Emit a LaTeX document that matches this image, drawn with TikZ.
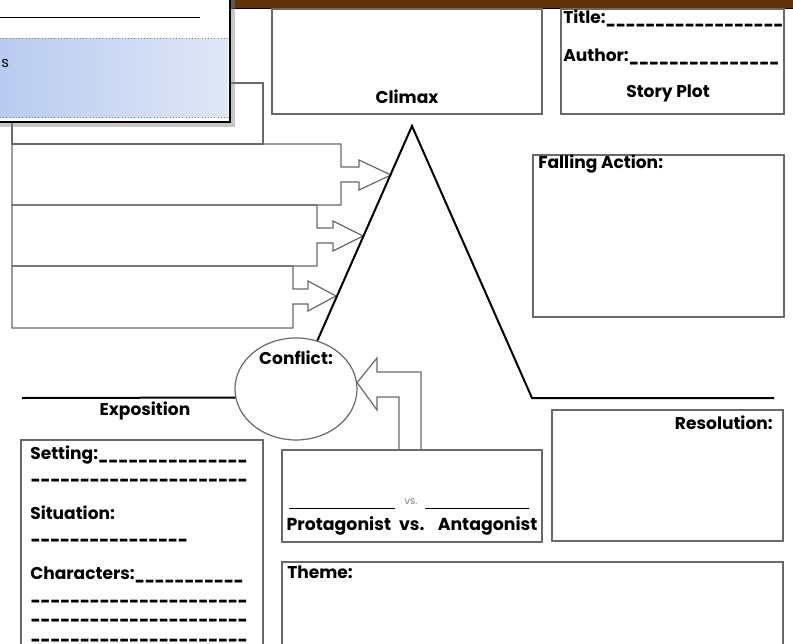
\documentclass[tikz,border=0pt]{standalone}
\usepackage{fontspec}
\setmainfont{Poppins}
\usetikzlibrary{positioning,shapes.geometric,shadows}

\definecolor{boxgray}{RGB}{105,105,105}
\definecolor{barbrown}{RGB}{92,50,6}
\definecolor{winblueL}{RGB}{184,203,240}
\definecolor{winblueR}{RGB}{224,231,246}

\newcommand{\blankto}[2]{\makebox[#1][l]{#2\xleaders\hbox{\scalebox{0.72}[1]{\_}}\hfill}}

\tikzset{
  box/.style={draw=boxgray, line width=0.9pt},
  plotline/.style={draw=black, line width=1.5pt},
  lbl/.style={font=\bfseries\fontsize{12.8}{14}\selectfont, inner sep=0pt},
  lbll/.style={lbl, anchor=west},
  lblb/.style={lbl, anchor=base west},
}

\begin{document}
\begin{tikzpicture}[x=0.75pt,y=-0.75pt]
\useasboundingbox (0,0) rectangle (793,643);

\fill[barbrown] (0,0) rectangle (793,8);
\draw[line width=1pt] (0,8.5) -- (793,8.5);

\draw[box] (272,9) rectangle (542,114);
\node[lbl] (climax) at (407,97) {Climax};

\draw[box] (561,9) rectangle (784,114);
\node[lbll] (title) at (563,18) {\blankto{165pt}{Title:}};
\node[lbll] (author) at (563,57) {\blankto{162pt}{Author:}};
\node[lbl] (storyplot) at (668,93) {Story Plot};

\draw[box] (533,155) rectangle (784,317);
\node[lbll] (falling) at (538,164) {Falling Action:};

% rising action
\draw[box] (12,83) -- (263,83) -- (263,144) -- (12,144) -- cycle;
\draw[box] (12,144) -- (341,144) -- (341,167) -- (359,167) -- (359,160) -- (391,175) -- (359,190) -- (359,182) -- (341,182) -- (341,205) -- (12,205) -- cycle;
\draw[box] (12,205) -- (317,205) -- (317,228) -- (333,228) -- (333,221) -- (363,236) -- (333,251) -- (333,243) -- (317,243) -- (317,266) -- (12,266) -- cycle;
\draw[box] (12,266) -- (293,266) -- (293,289) -- (308,289) -- (308,281) -- (336,296) -- (308,311) -- (308,304) -- (293,304) -- (293,328) -- (12,328) -- cycle;

% plot line
\node[box, fill=white, ellipse, minimum width=91.5pt, minimum height=76.5pt, inner sep=0pt] (conflict) at (296,389) {};
\node[lbl] (conflictlbl) at (296,358) {Conflict:};
\coordinate (peak) at (412,126);
\coordinate (fallend) at (532,398);
\coordinate (resend) at (774,398);
\coordinate (expstart) at (22,398);
\draw[plotline] (conflict) -- (peak) -- (fallend) -- (resend);
\draw[plotline] (expstart) -- (conflict.188);
\node[lbl] (exposition) at (145,411) {Exposition};

% conflict arrow
\draw[box] (399,450) -- (399,397) -- (377,397) -- (377,410) -- (conflict.6) -- (377,358) -- (377,372) -- (421,372) -- (421,450);

\draw[box] (282,450) rectangle (542,542);
\draw[line width=0.6pt] (289,508) -- (395,508);
\draw[line width=0.6pt] (425,508) -- (529,508);
\node[font=\fontsize{7.5}{8}\selectfont, text=gray, inner sep=0pt] (vs) at (411,502) {vs.};
\node[lbl, font=\bfseries\fontsize{13}{14}\selectfont] (protag) at (412,526) {Protagonist\hspace{6pt}vs.\hspace{10pt}Antagonist};

\draw[box] (552,410) rectangle (783,541);
\node[lbl, anchor=east] (resolution) at (773,423) {Resolution:};

\draw[box] (282,645) -- (282,562) -- (783,562) -- (783,645);
\node[lbll] (theme) at (287,572) {Theme:};

% exposition
\draw[box] (21,645) -- (21,440) -- (263,440) -- (263,645);
\node[lblb] (setting) at (30,459) {\blankto{163pt}{Setting:}};
\node[lblb] (setting2) at (30,478) {\blankto{163pt}{}};
\node[lblb] (situation) at (30,519) {Situation:};
\node[lblb] (situation2) at (30,538) {\blankto{118pt}{}};
\node[lblb] (characters) at (30,579) {\blankto{160pt}{Characters:}};
\node[lblb] (chars2) at (30,599) {\blankto{163pt}{}};
\node[lblb] (chars3) at (30,618) {\blankto{163pt}{}};
\node[lblb] (chars4) at (30,638) {\blankto{163pt}{}};

% window
\draw[fill=white, line width=1.5pt, drop shadow={shadow xshift=4pt, shadow yshift=-4pt, opacity=0.45}] (-5,-5) rectangle (230,122);
\draw[line width=0.6pt] (0,17) -- (200,17);
\shade[left color=winblueL, right color=winblueR] (0,38) rectangle (228,117);
\draw[dotted, gray] (0,38) -- (228,38);
\draw[dotted, gray] (0,117) -- (228,117);
\node[anchor=west, inner sep=0pt, font=\fontsize{11}{12}\selectfont] (winlbl) at (1,63) {s};
\end{tikzpicture}
\end{document}
